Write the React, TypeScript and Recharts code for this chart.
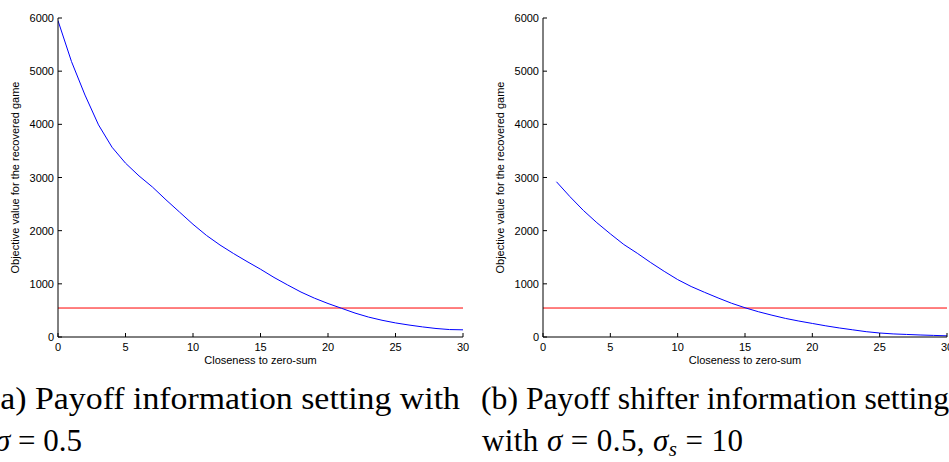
import { LineChart, Line, XAxis, YAxis, ReferenceLine } from 'recharts';

const closenessA = [0, 1, 2, 3, 4, 5, 6, 7, 8, 9, 10, 11, 12, 13, 14, 15, 16, 17, 18, 19, 20, 21, 22, 23, 24, 25, 26, 27, 28, 29, 30];
const objectiveA = [5950, 5180, 4550, 3990, 3570, 3270, 3030, 2820, 2580, 2350, 2120, 1910, 1730, 1570, 1420, 1275, 1120, 980, 845, 730, 630, 540, 450, 375, 315, 265, 225, 190, 160, 140, 135];
const thresholdA = 545;

const closenessB = [1, 2, 3, 4, 5, 6, 7, 8, 9, 10, 11, 12, 13, 14, 15, 16, 17, 18, 19, 20, 21, 22, 23, 24, 25, 26, 27, 28, 29, 30];
const objectiveB = [2920, 2640, 2380, 2150, 1940, 1740, 1575, 1400, 1235, 1080, 950, 840, 735, 635, 550, 475, 410, 350, 300, 255, 210, 170, 135, 100, 75, 58, 48, 38, 30, 22];
const thresholdB = 545;

const xTicks = [0, 5, 10, 15, 20, 25, 30];
const yTicks = [0, 1000, 2000, 3000, 4000, 5000, 6000];

const xLabel = 'Closeness to zero-sum';
const yLabel = 'Objective value for the recovered game';

const FONT = '"Liberation Sans", Arial, sans-serif';
const SERIF = '"Liberation Serif", "Times New Roman", serif';

function BottomTick({ x, y, payload }: any) {
  return (
    <g>
      <line x1={x} x2={x} y1={y} y2={y - 4} stroke="#000" />
      <text x={x} y={y + 14} textAnchor="middle" fontSize={11} fontFamily={FONT} fill="#000">
        {payload.value}
      </text>
    </g>
  );
}

function LeftTick({ x, y, payload }: any) {
  return (
    <g>
      <line x1={x} x2={x + 4} y1={y} y2={y} stroke="#000" />
      <text x={x - 4} y={y + 4} textAnchor="end" fontSize={11} fontFamily={FONT} fill="#000">
        {payload.value}
      </text>
    </g>
  );
}

function TopTick({ x, y }: any) {
  return <line x1={x} x2={x} y1={y} y2={y + 4} stroke="#000" />;
}

function RightTick({ x, y }: any) {
  return <line x1={x} x2={x - 4} y1={y} y2={y} stroke="#000" />;
}

interface PanelProps {
  xs: number[];
  ys: number[];
  threshold: number;
  width: number;
  right: number;
}

function Panel({ xs, ys, threshold, width, right }: PanelProps) {
  const data = xs.map((x, i) => ({ x, value: ys[i] }));
  return (
    <LineChart width={width} height={375} data={data} margin={{ top: 18, right, left: 0, bottom: 0 }}>
      <XAxis
        dataKey="x"
        type="number"
        domain={[0, 30]}
        ticks={xTicks}
        interval={0}
        allowDataOverflow
        height={38}
        tickSize={0}
        tickMargin={0}
        tickLine={false}
        axisLine={{ stroke: '#000' }}
        tick={<BottomTick />}
        label={{ value: xLabel, position: 'insideBottom', offset: 11, fontSize: 11, fontFamily: FONT, fill: '#000' }}
      />
      <XAxis
        xAxisId="top"
        orientation="top"
        type="number"
        domain={[0, 30]}
        ticks={xTicks}
        interval={0}
        allowDataOverflow
        height={0}
        tickSize={0}
        tickMargin={0}
        tickLine={false}
        axisLine={{ stroke: '#000' }}
        tick={<TopTick />}
      />
      <YAxis
        type="number"
        domain={[0, 6000]}
        ticks={yTicks}
        interval={0}
        allowDataOverflow
        width={58}
        tickSize={0}
        tickMargin={0}
        tickLine={false}
        axisLine={{ stroke: '#000' }}
        tick={<LeftTick />}
        label={{ value: yLabel, angle: -90, position: 'center', dx: -14, fontSize: 11, fontFamily: FONT, fill: '#000' }}
      />
      <YAxis
        yAxisId="right"
        orientation="right"
        type="number"
        domain={[0, 6000]}
        ticks={yTicks}
        interval={0}
        allowDataOverflow
        width={0}
        tickSize={0}
        tickMargin={0}
        tickLine={false}
        axisLine={{ stroke: '#000' }}
        tick={<RightTick />}
      />
      <ReferenceLine y={threshold} stroke="#ff0000" strokeWidth={1} ifOverflow="visible" />
      <Line
        type="linear"
        dataKey="value"
        stroke="#0000ff"
        strokeWidth={1}
        dot={false}
        activeDot={false}
        isAnimationActive={false}
      />
    </LineChart>
  );
}

export default function App() {
  return (
    <div
      style={{
        position: 'absolute',
        left: 0,
        top: 0,
        width: 949,
        height: 462,
        overflow: 'hidden',
        background: '#fff',
      }}
    >
      <div style={{ position: 'absolute', left: 0, top: 0 }}>
        <Panel xs={closenessA} ys={objectiveA} threshold={thresholdA} width={475} right={12} />
      </div>
      <div style={{ position: 'absolute', left: 485, top: 0 }}>
        <Panel xs={closenessB} ys={objectiveB} threshold={thresholdB} width={464} right={2} />
      </div>
      <svg width={949} height={462} style={{ position: 'absolute', left: 0, top: 0, pointerEvents: 'none' }}>
        <g fontFamily={SERIF} fontSize={31} fill="#000">
          <text x={-11} y={409} textLength={471} lengthAdjust="spacingAndGlyphs">
            (a) Payoff information setting with
          </text>
          <text x={82} y={451} textAnchor="end">
            <tspan fontStyle="italic">σ</tspan> = 0.5
          </text>
          <text x={481} y={409} textLength={468} lengthAdjust="spacingAndGlyphs">
            (b) Payoff shifter information setting
          </text>
          <text x={482} y={451} textLength={261} lengthAdjust="spacing">
            with <tspan fontStyle="italic">σ</tspan> = 0.5, <tspan fontStyle="italic">σ</tspan>
            <tspan fontStyle="italic" fontSize={21} dy={5}>s</tspan>
            <tspan dy={-5}> = 10</tspan>
          </text>
        </g>
      </svg>
    </div>
  );
}
